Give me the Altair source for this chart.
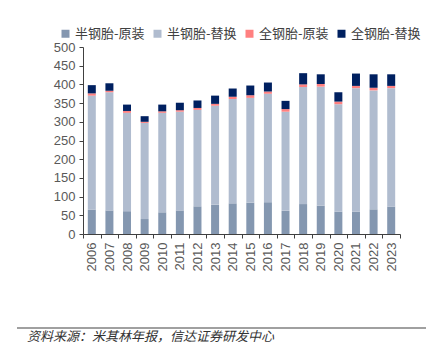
import altair as alt
import pandas as pd

years = [str(y) for y in range(2006, 2024)]
series = ["半钢胎-原装", "半钢胎-替换", "全钢胎-原装", "全钢胎-替换"]
colors = ["#8497b0", "#b0bccf", "#ff8080", "#002060"]

semi_oe = [65, 63, 61, 40, 58, 63, 74, 78, 82, 84, 85, 62, 80, 76, 60, 60, 66, 73]
semi_rep = [305, 316, 263, 257, 266, 264, 258, 265, 279, 280, 290, 265, 313, 318, 287, 330, 318, 317]
full_oe = [6, 4, 5, 3, 4, 4, 5, 5, 6, 7, 6, 7, 7, 7, 7, 6, 7, 6]
full_rep = [22, 20, 17, 15, 18, 20, 20, 22, 22, 26, 24, 22, 30, 26, 25, 33, 36, 31]

footer = "资料来源：米其林年报，信达证券研发中心"

rows = []
for vals, name, k in zip([semi_oe, semi_rep, full_oe, full_rep], series, range(4)):
    for y, v in zip(years, vals):
        rows.append({"year": y, "series": name, "value": v, "ord": k})
df = pd.DataFrame(rows)

W, H = 317, 187

bars = alt.Chart(df).mark_bar(size=8).encode(
    x=alt.X("year:N", title=None, sort=years,
            scale=alt.Scale(paddingInner=0, paddingOuter=0),
            axis=alt.Axis(labelAngle=270, labelAlign="right", labelBaseline="middle",
                          labelFontSize=13, labelColor="#595959", labelFont="Liberation Sans",
                          tickBand="extent", tickSize=4, tickColor="#404040",
                          domainColor="#404040", labelPadding=4)),
    y=alt.Y("value:Q", title=None, stack="zero",
            scale=alt.Scale(domain=[0, 500], nice=False),
            axis=alt.Axis(values=list(range(0, 501, 50)), grid=False,
                          labelFontSize=13, labelColor="#595959", labelFont="Liberation Sans",
                          tickSize=4, tickColor="#404040", domainColor="#404040",
                          labelPadding=4)),
    color=alt.Color("series:N", sort=series,
                    scale=alt.Scale(domain=series, range=colors),
                    legend=alt.Legend(title=None, orient="none", legendX=-24, legendY=-20,
                                      direction="horizontal", columns=4,
                                      symbolType="square", symbolSize=64,
                                      symbolStrokeWidth=0,
                                      labelFontSize=13, labelColor="#404040",
                                      labelFont="Noto Sans CJK SC",
                                      columnPadding=6, symbolOffset=0, labelOffset=3)),
    order=alt.Order("ord:Q", sort="ascending"),
)

line = alt.Chart(pd.DataFrame({"a": [0]})).mark_rule(color="#808080", strokeWidth=1.5).encode(
    x=alt.value(-66), x2=alt.value(352), y=alt.value(281)
)

foot = alt.Chart(pd.DataFrame({"t": [footer]})).mark_text(
    align="left", baseline="middle", fontSize=13, fontStyle="italic",
    font="Noto Sans CJK SC", color="#333333"
).encode(text="t:N", x=alt.value(-56), y=alt.value(290))

chart = alt.layer(bars, line, foot).properties(
    width=W, height=H,
    autosize=alt.AutoSizeParams(type="none"),
    padding={"left": 75, "top": 39, "right": 26, "bottom": 113},
).configure_view(stroke=None)

chart.save("out.html", embed_options={"renderer": "svg", "actions": False})
